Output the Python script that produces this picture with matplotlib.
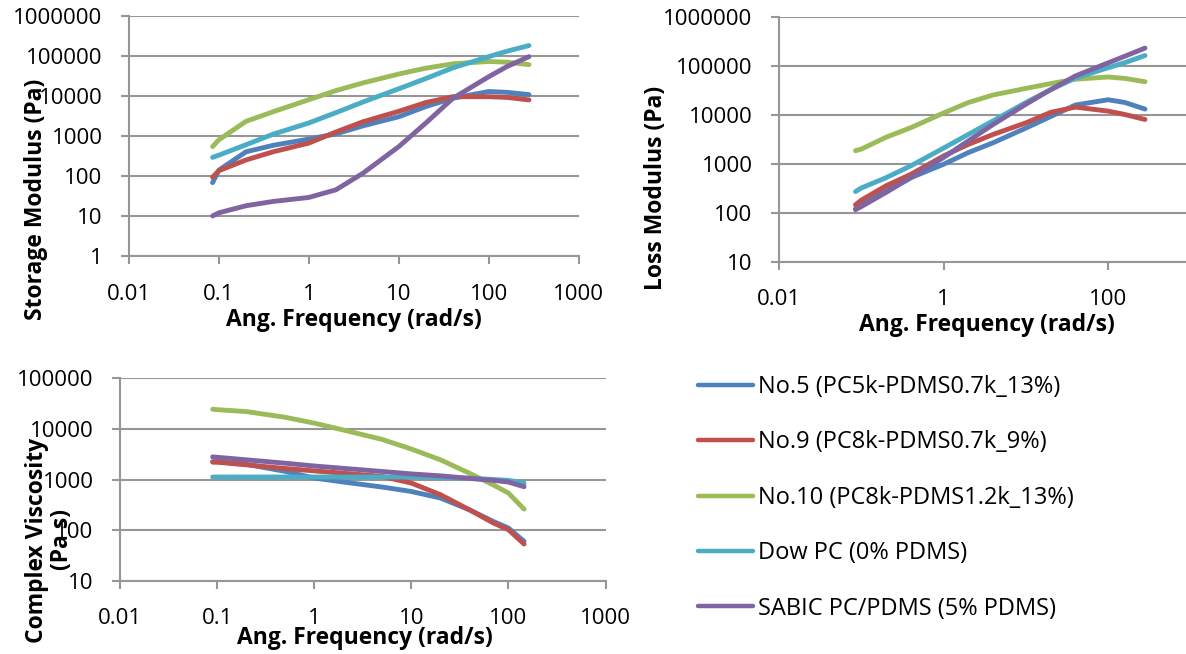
import numpy as np
import matplotlib.pyplot as plt

plt.rcParams['font.family'] = ['Open Sans', 'DejaVu Sans']

names = ['No.5 (PC5k-PDMS0.7k_13%)', 'No.9 (PC8k-PDMS0.7k_9%)',
         'No.10 (PC8k-PDMS1.2k_13%)', 'Dow PC (0% PDMS)',
         'SABIC PC/PDMS (5% PDMS)']
colors = ['#4F81BD', '#C0504D', '#9BBB59', '#4BACC6', '#8064A2']

# storage / loss modulus frequencies (rad/s)
freq_mod = [0.085, 0.1, 0.2, 0.4, 1, 2, 4, 10, 20, 40, 100, 160, 280]

storage = [
    [68, 140, 400, 580, 830, 1120, 1780, 3000, 5400, 8700, 12800, 12200, 10700],
    [93, 135, 250, 400, 660, 1250, 2250, 4100, 6800, 9500, 9500, 9100, 7900],
    [540, 800, 2300, 4000, 8000, 13500, 21000, 35000, 49000, 63000, 72000, 69000, 60000],
    [290, 330, 600, 1100, 2100, 3800, 7000, 15000, 27000, 50000, 95000, 130000, 180000],
    [10, 12, 18, 23, 29, 45, 117, 540, 2100, 8700, 30000, 54000, 95000],
]

loss = [
    [120, 145, 280, 520, 980, 1700, 2700, 5400, 9300, 16000, 20500, 18000, 13200],
    [145, 180, 355, 610, 1450, 2500, 4000, 6900, 11300, 14500, 12000, 10200, 8100],
    [1860, 2000, 3500, 5500, 11000, 18000, 25700, 35000, 44000, 54000, 60000, 56000, 48000],
    [270, 320, 520, 910, 2100, 4000, 7600, 18000, 33000, 57000, 93000, 118000, 165000],
    [115, 133, 260, 520, 1350, 2950, 6400, 16600, 33000, 63000, 117000, 160000, 234000],
]

# complex viscosity frequencies (rad/s)
freq_visc = [0.09, 0.1, 0.2, 0.5, 1, 2, 5, 10, 20, 40, 70, 100, 145]

viscosity = [
    [2250, 2250, 2000, 1450, 1070, 890, 710, 580, 430, 250, 148, 110, 60],
    [2200, 2200, 1950, 1650, 1480, 1330, 1150, 850, 500, 250, 138, 102, 53],
    [24500, 24000, 22000, 17000, 13000, 9500, 6200, 4000, 2450, 1320, 780, 540, 260],
    [1120, 1120, 1120, 1120, 1120, 1120, 1120, 1120, 1100, 1060, 1000, 960, 850],
    [2800, 2750, 2450, 2100, 1850, 1660, 1440, 1290, 1180, 1050, 960, 890, 720],
]

W, H = 1186, 654
grid_c = '#969696'
fs = 16      # tick labels
lfs = 16.5   # axis titles
lw = 3.5

fig = plt.figure(figsize=(W / 100, H / 100), dpi=100)


def box(l, t, r, b):
    return [l / W, 1 - b / H, (r - l) / W, (b - t) / H]


def style(ax, xlim, ylim, xticks, yticks, xpad, ypad):
    ax.set_xscale('log')
    ax.set_yscale('log')
    ax.set_xlim(*xlim)
    ax.set_ylim(*ylim)
    ax.set_xticks(xticks)
    ax.set_xticklabels([('%g' % t) for t in xticks])
    ax.set_yticks(yticks)
    ax.set_yticklabels([str(int(t)) for t in yticks])
    ax.minorticks_off()
    ax.yaxis.grid(True, color=grid_c, linewidth=1.5)
    ax.set_axisbelow(True)
    for s in ['top', 'right']:
        ax.spines[s].set_visible(False)
    for s in ['left', 'bottom']:
        ax.spines[s].set_color(grid_c)
        ax.spines[s].set_linewidth(1.5)
    ax.tick_params(axis='both', direction='out', length=6, width=1.5,
                   color=grid_c, labelsize=fs, labelcolor='black')
    ax.tick_params(axis='x', pad=xpad)
    ax.tick_params(axis='y', pad=ypad)


def labels(ax, xl, yl, xpos, ypos):
    ax.set_xlabel(xl, fontsize=lfs, fontweight='bold', va='center')
    ax.set_ylabel(yl, fontsize=lfs, fontweight='bold', va='center',
                  linespacing=1.08)
    ax.xaxis.set_label_coords(xpos[0] / W, 1 - xpos[1] / H,
                              transform=fig.transFigure)
    ax.yaxis.set_label_coords(ypos[0] / W, 1 - ypos[1] / H,
                              transform=fig.transFigure)


# storage modulus
ax1 = fig.add_axes(box(129, 15.7, 578.7, 256))
for i in range(5):
    ax1.plot(freq_mod, storage[i], color=colors[i], lw=lw,
             solid_capstyle='round')
style(ax1, (0.01, 1000), (1, 1e6), [0.01, 0.1, 1, 10, 100, 1000],
      [1, 10, 100, 1000, 10000, 100000, 1000000], 14, 13)
labels(ax1, 'Ang. Frequency (rad/s)', 'Storage Modulus (Pa)',
       (354, 320), (36, 199))

# loss modulus
ax2 = fig.add_axes(box(779, 17.3, 779 + 6 * 82.3, 261.5))
for i in range(5):
    ax2.plot(freq_mod, loss[i], color=colors[i], lw=lw,
             solid_capstyle='round')
style(ax2, (0.01, 10000), (10, 1e6), [0.01, 1, 100],
      [10, 100, 1000, 10000, 100000, 1000000], 13.5, 13)
labels(ax2, 'Ang. Frequency (rad/s)', 'Loss Modulus (Pa)',
       (987, 325), (656, 188))

# complex viscosity
ax3 = fig.add_axes(box(120, 378.3, 605.5, 580.7))
lines = []
for i in range(5):
    ln, = ax3.plot(freq_visc, viscosity[i], color=colors[i], lw=lw,
                   solid_capstyle='round')
    lines.append(ln)
style(ax3, (0.01, 1000), (10, 100000), [0.01, 0.1, 1, 10, 100, 1000],
      [10, 100, 1000, 10000, 100000], 14, 13)
labels(ax3, 'Ang. Frequency (rad/s)', 'Complex Viscosity\n(Pa s)',
       (365, 638), (49.5, 540))

leg = fig.legend(lines, names, loc='upper left',
                 bbox_to_anchor=(698 / W, 1 - 375 / H),
                 frameon=False, fontsize=17, handlelength=2.35,
                 handletextpad=0.2, labelspacing=1.33,
                 borderpad=0, borderaxespad=0)
for h in leg.get_lines():
    h.set_linewidth(3.2)

plt.savefig('out.png', dpi=100)
